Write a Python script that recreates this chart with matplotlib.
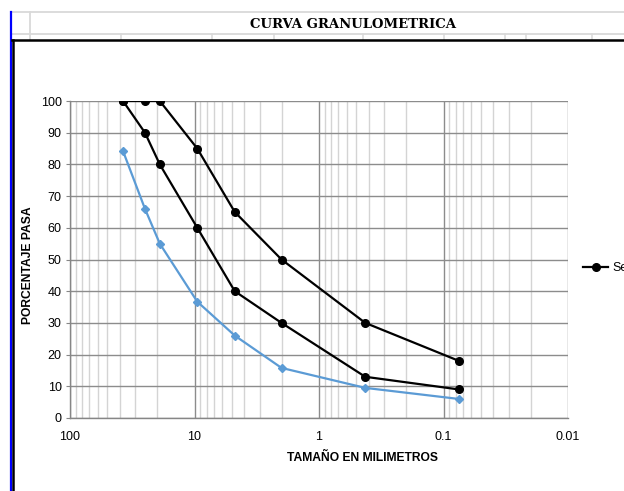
import numpy as np
import matplotlib
matplotlib.use("Agg")
import matplotlib.pyplot as plt
from matplotlib.lines import Line2D
from matplotlib.ticker import FixedLocator, FuncFormatter, LogLocator, NullFormatter

# DATA------------------------------------------------------------------------------------------------------------------
tamices = [37.5, 25.0, 19.0, 9.5, 4.75, 2.0, 0.425, 0.075]   # abertura en mm
limite_superior = [100, 100, 100, 85, 65, 50, 30, 18]
limite_inferior = [100, 90, 80, 60, 40, 30, 13, 9]
muestra = [84.2, 66, 55, 36.7, 26, 15.8, 9.5, 6]
x_ticks = [100, 10, 1, 0.1, 0.01]
x_tick_labels = ["100", "10", "1", "0.1", "0.01"]
y_ticks = list(range(0, 101, 10))

W, H = 624, 491


def px(x):
    return x / W


def py(y):
    return 1 - y / H


fig = plt.figure(figsize=(W / 100, H / 100), dpi=100)

# spreadsheet cells behind the chart
cell = "#d9d9d9"
for seg in [((11, W), (12, 12)), ((11, W), (34, 34)), ((30, 30), (12, 40))]:
    fig.add_artist(Line2D([px(v) for v in seg[0]], [py(v) for v in seg[1]], color=cell, lw=1.3))
for xc in [121, 212, 274, 363, 444, 505, 526, 592]:
    fig.add_artist(Line2D([px(xc), px(xc)], [py(34), py(40)], color=cell, lw=1.1))
fig.add_artist(Line2D([px(11), px(11)], [py(12), py(H)], color="#0000ff", lw=1.6))
fig.add_artist(Line2D([px(12), px(W)], [py(40), py(40)], color="black", lw=1.8))
fig.add_artist(Line2D([px(13), px(13)], [py(40), py(H)], color="black", lw=1.8))

fig.text(px(353), py(24), "CURVA GRANULOMETRICA", ha="center", va="center",
         fontsize=9.5, fontweight="bold", family="DejaVu Serif")

# chart
ax = fig.add_axes([px(70), py(418), px(568) - px(70), py(101) - py(418)])
ax.set_xscale("log")
ax.set_xlim(100, 0.01)
ax.set_ylim(0, 100)

ax.plot(tamices, limite_superior, color="black", lw=1.6, marker="o", markersize=5.5, label="Serie1")
ax.plot(tamices, limite_inferior, color="black", lw=1.6, marker="o", markersize=5.5)
ax.plot(tamices, muestra, color="#5b9bd5", lw=1.6, marker="D", markersize=4.5)

ax.xaxis.set_major_locator(FixedLocator(x_ticks))
ax.xaxis.set_major_formatter(FuncFormatter(lambda v, p: x_tick_labels[x_ticks.index(v)] if v in x_ticks else ""))
ax.xaxis.set_minor_locator(LogLocator(base=10, subs=np.arange(2, 10)))
ax.xaxis.set_minor_formatter(NullFormatter())
ax.set_yticks(y_ticks)

ax.grid(which="minor", axis="x", color="#d4d4d4", lw=1.0)
ax.grid(which="major", axis="x", color="#8c8c8c", lw=1.0)
ax.grid(which="major", axis="y", color="#8c8c8c", lw=1.0)
ax.set_axisbelow(True)

for s in ["top", "right"]:
    ax.spines[s].set_visible(False)
for s in ["left", "bottom"]:
    ax.spines[s].set_color("#868686")
    ax.spines[s].set_linewidth(1.0)

ax.tick_params(axis="x", which="both", length=0, pad=9, labelsize=9)
ax.tick_params(axis="y", length=3, color="#868686", pad=3, labelsize=9)
for lab in ax.get_xticklabels() + ax.get_yticklabels():
    lab.set_family("Liberation Sans")

fig.text(px(362), py(458), "TAMAÑO EN MILIMETROS", ha="center", va="center",
         fontsize=8.7, fontweight="bold", family="Liberation Sans")
fig.text(px(28), py(265), "PORCENTAJE PASA", ha="center", va="center", rotation=90,
         fontsize=8.7, fontweight="bold", family="Liberation Sans")

ax.legend(loc="center left", bbox_to_anchor=(px(572), py(268)), bbox_transform=fig.transFigure,
          frameon=False, handlelength=2.0, handletextpad=0.3, prop={"family": "Liberation Sans", "size": 9})

fig.savefig("out.png", dpi=100)
